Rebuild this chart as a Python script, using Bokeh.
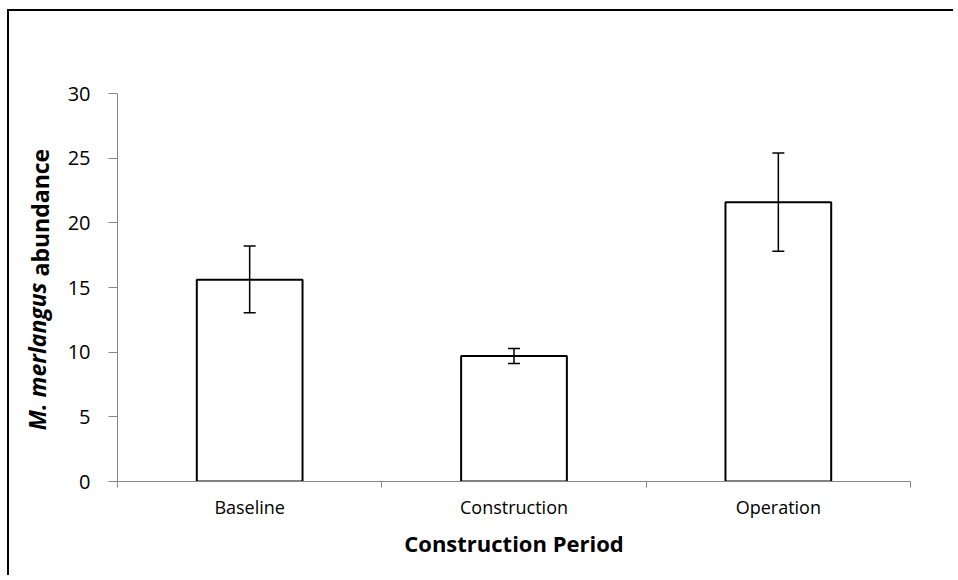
from bokeh.plotting import figure
from bokeh.models import Range1d, FixedTicker, Whisker, TeeHead, ColumnDataSource, Label
from bokeh.embed import file_html
from bokeh.resources import INLINE
import math

# ---- data ----
categories = ["Baseline", "Construction", "Operation"]
means = [15.6, 9.7, 21.6]
err_lower = [13.05, 9.12, 17.8]
err_upper = [18.2, 10.28, 25.4]
y_ticks = [0, 5, 10, 15, 20, 25, 30]

xpos = [i + 0.5 for i in range(len(categories))]
src = ColumnDataSource(dict(x=xpos, top=means, lower=err_lower, upper=err_upper, cat=categories))

FONT = "Open Sans"
AXIS_GREY = "#868686"

p = figure(width=946, height=566, output_backend="svg", toolbar_location=None,
           x_range=Range1d(0, len(categories)), y_range=Range1d(0, 30),
           min_border_left=108, min_border_right=45, min_border_top=82, min_border_bottom=96)
p.styles = {"border-left": "2px solid black", "border-top": "2px solid black",
            "margin-left": "7px", "margin-top": "9px"}
p.outline_line_color = None
p.xgrid.visible = False
p.ygrid.visible = False
p.background_fill_color = "white"
p.border_fill_color = "white"

p.vbar(x="x", top="top", bottom=0, width=0.4, source=src,
       fill_color="white", line_color="black", line_width=2)

w = Whisker(base="x", lower="lower", upper="upper", source=src,
            line_color="black", line_width=1.5, level="overlay",
            upper_head=TeeHead(size=12, line_color="black", line_width=1.5),
            lower_head=TeeHead(size=12, line_color="black", line_width=1.5))
p.add_layout(w)

ya = p.yaxis[0]
ya.ticker = FixedTicker(ticks=y_ticks, minor_ticks=[])
ya.axis_line_color = AXIS_GREY
ya.major_tick_line_color = AXIS_GREY
ya.major_tick_in = 0
ya.major_tick_out = 9
ya.minor_tick_line_color = None
ya.major_label_text_font = FONT
ya.major_label_text_font_size = "20px"
ya.major_label_text_color = "black"
ya.major_label_standoff = 18

xa = p.xaxis[0]
xa.ticker = FixedTicker(ticks=xpos, minor_ticks=list(range(len(categories) + 1)))
xa.major_label_overrides = {x: c for x, c in zip(xpos, categories)}
xa.axis_line_color = AXIS_GREY
xa.major_tick_line_color = None
xa.major_tick_in = 0
xa.major_tick_out = 0
xa.minor_tick_line_color = AXIS_GREY
xa.minor_tick_in = 0
xa.minor_tick_out = 6
xa.major_label_text_font = FONT
xa.major_label_text_font_size = "18px"
xa.major_label_text_color = "black"
xa.major_label_standoff = 7
xa.axis_label = "Construction Period"
xa.axis_label_text_font = FONT
xa.axis_label_text_font_size = "22px"
xa.axis_label_text_font_style = "bold"
xa.axis_label_text_color = "black"
xa.axis_label_standoff = 6

# y axis title with mixed styling, split over two side-panel labels
lab_b = Label(x=4, y=199, x_units="screen", y_units="screen", text="M. merlangus",
              angle=math.pi / 2, text_align="right", text_baseline="alphabetic",
              text_font=FONT, text_font_size="23px", text_font_style="bold italic",
              text_color="black")
lab_a = Label(x=-871, y=205, x_units="screen", y_units="screen", text="abundance",
              angle=math.pi / 2, text_align="left", text_baseline="alphabetic",
              text_font=FONT, text_font_size="23px", text_font_style="bold",
              text_color="black")
p.add_layout(lab_b, "left")
p.add_layout(lab_a, "right")

open("out.html", "w").write(file_html(p, INLINE))
